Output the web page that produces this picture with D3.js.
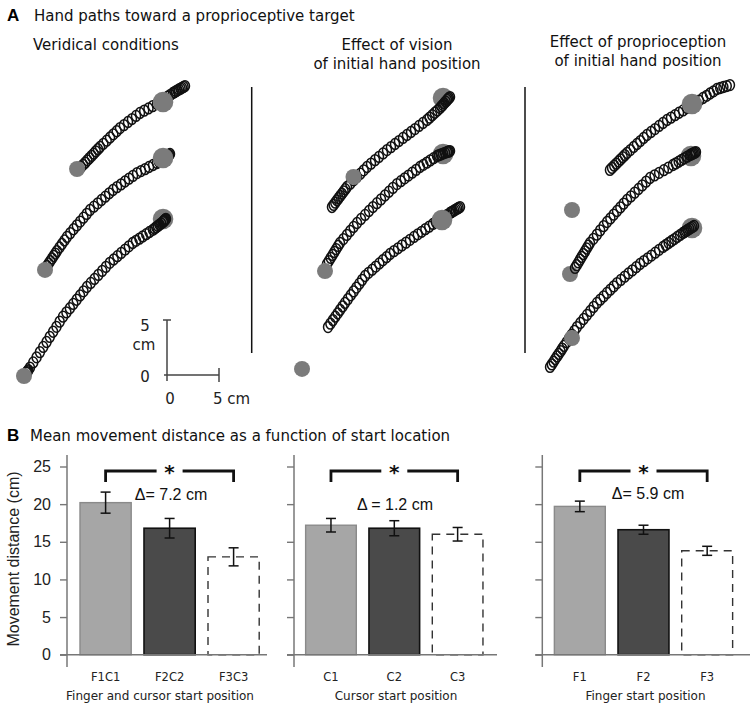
<!DOCTYPE html>
<html><head><meta charset="utf-8">
<script src="https://cdn.jsdelivr.net/npm/d3@7"></script>
<style>body{margin:0;background:#fff}svg{display:block}</style>
</head><body>
<svg id="fig" width="750" height="705"></svg>
<script>
// ---------------- DATA ----------------
// Panel A: hand paths (cm, relative to each panel's reference origin)
const panelATitles = [["Veridical conditions"], ["Effect of vision", "of initial hand position"], ["Effect of proprioception", "of initial hand position"]];

const veridicalTop = [[-8.27,18.91],[-8.07,19.11],[-7.86,19.31],[-7.66,19.52],[-7.46,19.72],[-7.25,19.92],[-7.05,20.12],[-6.85,20.33],[-6.64,20.53],[-6.44,20.73],[-6.12,21.02],[-5.8,21.3],[-5.48,21.59],[-5.16,21.88],[-4.84,22.16],[-4.52,22.45],[-4.14,22.72],[-3.75,23.0],[-3.37,23.27],[-2.98,23.55],[-2.6,23.82],[-2.19,24.03],[-1.78,24.23],[-1.37,24.44],[-0.96,24.64],[-0.7,24.81],[-0.45,24.97],[-0.19,25.14],[0.07,25.31],[0.32,25.47],[0.58,25.64],[0.72,25.72],[0.87,25.8],[1.01,25.88],[1.15,25.96],[1.3,26.03],[1.44,26.11],[1.59,26.19],[1.73,26.27]];
const veridicalMid = [[-11.54,9.91],[-11.38,10.14],[-11.22,10.36],[-11.06,10.59],[-10.9,10.82],[-10.74,11.04],[-10.58,11.27],[-10.34,11.59],[-10.1,11.91],[-9.86,12.23],[-9.62,12.55],[-9.3,12.9],[-8.99,13.25],[-8.67,13.6],[-8.35,13.95],[-8.03,14.3],[-7.72,14.65],[-7.4,15.0],[-7.03,15.3],[-6.66,15.61],[-6.3,15.91],[-5.93,16.21],[-5.56,16.52],[-5.19,16.82],[-4.81,17.08],[-4.42,17.33],[-4.04,17.59],[-3.65,17.85],[-3.27,18.1],[-2.88,18.36],[-2.5,18.54],[-2.11,18.72],[-1.73,18.91],[-1.34,19.09],[-0.96,19.27],[-0.77,19.38],[-0.58,19.49],[-0.38,19.6],[-0.19,19.71],[0,19.82],[0.07,19.89],[0.15,19.96],[0.22,20.02],[0.29,20.09]];
const veridicalBot = [[-13.5,0.2],[-13.45,0.27],[-13.4,0.35],[-13.33,0.45],[-13.18,0.67],[-12.86,1.14],[-12.54,1.61],[-12.22,2.08],[-11.9,2.55],[-11.58,3.0],[-11.27,3.47],[-10.95,3.93],[-10.63,4.38],[-10.32,4.85],[-10.0,5.3],[-9.67,5.69],[-9.34,6.07],[-9.01,6.46],[-8.69,6.84],[-8.36,7.23],[-8.03,7.61],[-7.7,8.0],[-7.33,8.37],[-6.97,8.73],[-6.6,9.1],[-6.23,9.47],[-5.87,9.83],[-5.5,10.2],[-5.13,10.5],[-4.77,10.8],[-4.4,11.1],[-4.03,11.4],[-3.67,11.7],[-3.3,12.0],[-2.98,12.2],[-2.65,12.4],[-2.33,12.6],[-2.0,12.8],[-1.68,13.0],[-1.35,13.2],[-1.19,13.32],[-1.03,13.43],[-0.87,13.55],[-0.72,13.67],[-0.56,13.78],[-0.4,13.9],[-0.34,13.96],[-0.28,14.02],[-0.22,14.08],[-0.16,14.14],[-0.1,14.2]];

const visionTop = [[-11.06,15.27],[-10.9,15.47],[-10.74,15.67],[-10.58,15.88],[-10.42,16.08],[-10.26,16.28],[-10.1,16.48],[-9.94,16.68],[-9.78,16.89],[-9.62,17.09],[-9.3,17.39],[-8.98,17.7],[-8.66,18.0],[-8.33,18.3],[-8.01,18.61],[-7.69,18.91],[-7.31,19.22],[-6.92,19.53],[-6.54,19.83],[-6.15,20.14],[-5.77,20.45],[-5.39,20.72],[-5.0,21.0],[-4.62,21.27],[-4.23,21.55],[-3.85,21.82],[-3.46,22.09],[-3.08,22.36],[-2.69,22.64],[-2.31,22.91],[-1.92,23.18],[-1.67,23.4],[-1.42,23.62],[-1.17,23.84],[-0.92,24.05],[-0.67,24.27],[-0.54,24.42],[-0.4,24.56],[-0.27,24.71],[-0.13,24.85],[0,25.0],[0.1,25.09],[0.19,25.18],[0.29,25.27]];
const visionMid = [[-11.54,10.09],[-11.36,10.36],[-11.18,10.64],[-11.0,10.91],[-10.83,11.18],[-10.65,11.45],[-10.47,11.73],[-10.29,12.0],[-9.96,12.36],[-9.63,12.73],[-9.31,13.09],[-8.98,13.46],[-8.65,13.82],[-8.27,14.18],[-7.88,14.55],[-7.5,14.91],[-7.12,15.27],[-6.74,15.62],[-6.35,15.97],[-5.97,16.32],[-5.58,16.66],[-5.2,17.01],[-4.81,17.36],[-4.44,17.62],[-4.07,17.88],[-3.71,18.13],[-3.34,18.39],[-2.97,18.65],[-2.6,18.91],[-2.27,19.11],[-1.94,19.31],[-1.61,19.51],[-1.29,19.71],[-0.96,19.91],[-0.77,19.98],[-0.58,20.05],[-0.38,20.13],[-0.19,20.2],[0,20.27],[0.1,20.3],[0.19,20.33],[0.29,20.36]];
const visionBot = [[-11.44,4.36],[-11.21,4.67],[-10.97,4.99],[-10.74,5.3],[-10.51,5.61],[-10.28,5.92],[-10.04,6.24],[-9.81,6.55],[-9.53,6.9],[-9.26,7.25],[-8.98,7.6],[-8.71,7.95],[-8.43,8.3],[-8.16,8.65],[-7.88,9.0],[-7.54,9.29],[-7.19,9.57],[-6.85,9.86],[-6.51,10.14],[-6.17,10.43],[-5.82,10.71],[-5.48,11.0],[-5.1,11.26],[-4.71,11.52],[-4.33,11.78],[-3.94,12.03],[-3.56,12.29],[-3.17,12.55],[-2.81,12.79],[-2.44,13.02],[-2.08,13.26],[-1.71,13.49],[-1.35,13.73],[-1.08,13.9],[-0.8,14.06],[-0.53,14.23],[-0.26,14.4],[0.02,14.56],[0.29,14.73],[0.43,14.81],[0.56,14.88],[0.7,14.96],[0.84,15.04],[0.98,15.12],[1.11,15.19],[1.25,15.27]];

const propTop = [[-8.37,18.64],[-8.17,18.83],[-7.96,19.03],[-7.76,19.22],[-7.55,19.41],[-7.35,19.6],[-7.14,19.8],[-6.94,19.99],[-6.73,20.18],[-6.41,20.45],[-6.09,20.73],[-5.77,21.0],[-5.45,21.27],[-5.13,21.55],[-4.81,21.82],[-4.42,22.09],[-4.04,22.36],[-3.65,22.64],[-3.27,22.91],[-2.88,23.18],[-2.5,23.4],[-2.11,23.62],[-1.73,23.84],[-1.34,24.05],[-0.96,24.27],[-0.58,24.5],[-0.19,24.72],[0.19,24.95],[0.58,25.18],[0.92,25.38],[1.25,25.59],[1.59,25.79],[1.92,26.0],[2.23,26.09],[2.54,26.18],[2.86,26.27],[3.17,26.36]];
const propMid = [[-11.73,9.73],[-11.57,9.98],[-11.41,10.23],[-11.25,10.49],[-11.09,10.74],[-10.93,10.99],[-10.77,11.24],[-10.61,11.5],[-10.45,11.75],[-10.29,12.0],[-9.96,12.38],[-9.63,12.76],[-9.31,13.15],[-8.98,13.53],[-8.65,13.91],[-8.33,14.24],[-8.01,14.58],[-7.69,14.91],[-7.37,15.24],[-7.05,15.58],[-6.73,15.91],[-6.36,16.24],[-5.99,16.58],[-5.62,16.91],[-5.26,17.24],[-4.89,17.58],[-4.52,17.91],[-4.08,18.15],[-3.64,18.38],[-3.19,18.62],[-2.75,18.85],[-2.31,19.09],[-2.04,19.24],[-1.76,19.39],[-1.49,19.55],[-1.22,19.7],[-0.94,19.85],[-0.67,20.0],[-0.56,20.05],[-0.44,20.11],[-0.33,20.16],[-0.21,20.22],[-0.1,20.27]];
const propBot = [[-14.13,0.73],[-13.96,0.97],[-13.79,1.21],[-13.63,1.45],[-13.46,1.69],[-13.29,1.92],[-13.12,2.16],[-12.96,2.4],[-12.79,2.64],[-12.54,2.98],[-12.29,3.33],[-12.04,3.67],[-11.79,4.02],[-11.54,4.36],[-11.22,4.73],[-10.9,5.09],[-10.58,5.46],[-10.26,5.82],[-9.94,6.19],[-9.62,6.55],[-9.3,6.85],[-8.98,7.15],[-8.66,7.46],[-8.33,7.76],[-8.01,8.06],[-7.69,8.36],[-7.32,8.65],[-6.95,8.94],[-6.59,9.23],[-6.22,9.51],[-5.85,9.8],[-5.48,10.09],[-5.11,10.35],[-4.74,10.61],[-4.38,10.86],[-4.01,11.12],[-3.64,11.38],[-3.27,11.64],[-3.0,11.82],[-2.72,12.0],[-2.45,12.18],[-2.17,12.36],[-1.9,12.55],[-1.62,12.73],[-1.35,12.91],[-1.2,13.0],[-1.05,13.09],[-0.9,13.18],[-0.75,13.28],[-0.59,13.37],[-0.44,13.46],[-0.29,13.55]];

const veridicalStarts = [[-8.65,18.73],[-11.73,9.55],[-13.75,-0.09]];
const veridicalTargets = [[-0.38,24.82],[-0.38,19.73],[-0.38,14.18]];
const visionStarts = [[-8.99,18.0],[-11.73,9.45],[-13.94,0.55]];
const visionTargets = [[-0.38,25.18],[-0.38,20.09],[-0.48,14.09]];
const propStarts = [[-12.02,15.0],[-12.21,9.18],[-12.02,3.36]];
const propTargets = [[-0.48,24.64],[-0.58,19.91],[-0.48,13.36]];

const scaleBarCm = [0, 5];

// Panel B: mean movement distance
const yTicks = [0, 5, 10, 15, 20, 25];
const catsFC = ["F1C1", "F2C2", "F3C3"];
const meansFC = [20.2, 16.8, 13.0];
const errFC = [1.4, 1.3, 1.2];
const catsC = ["C1", "C2", "C3"];
const meansC = [17.2, 16.8, 16.0];
const errC = [0.9, 1.0, 0.9];
const catsF = ["F1", "F2", "F3"];
const meansF = [19.7, 16.6, 13.8];
const errF = [0.7, 0.6, 0.6];
const deltaLabels = ["\u0394= 7.2 cm", "\u0394 = 1.2 cm", "\u0394= 5.9 cm"];
const xTitles = ["Finger and cursor start position", "Cursor start position", "Finger start position"];

// ---------------- DRAWING ----------------
const svg = d3.select("#fig");
const TF = "'DejaVu Sans', Verdana, sans-serif";
const AF = "'Liberation Sans', Arial, sans-serif";
const GRAY = "#7b7b7b";

// Panel titles
svg.append("text").attr("x", 7).attr("y", 21).attr("font-family", AF).attr("font-weight", "bold")
  .attr("font-size", 17).text("A");
svg.append("text").attr("x", 34).attr("y", 21).attr("font-family", TF).attr("font-size", 15).attr("fill", "#111")
  .text("Hand paths toward a proprioceptive target");
svg.append("text").attr("x", 7).attr("y", 441).attr("font-family", AF).attr("font-weight", "bold")
  .attr("font-size", 17).text("B");
svg.append("text").attr("x", 30).attr("y", 441).attr("font-family", TF).attr("font-size", 15).attr("fill", "#111")
  .text("Mean movement distance as a function of start location");

// Panel A
const panels = [
  {paths: [veridicalTop, veridicalMid, veridicalBot], starts: veridicalStarts, targets: veridicalTargets,
   ox: 167, tAbove: [true, true, false], sAbove: [true, true, true], title: {x: 33, y: [50], anchor: "start"}},
  {paths: [visionTop, visionMid, visionBot], starts: visionStarts, targets: visionTargets,
   ox: 447, tAbove: [false, false, true], sAbove: [true, true, true], title: {x: 397, y: [50, 69], anchor: "middle"}},
  {paths: [propTop, propMid, propBot], starts: propStarts, targets: propTargets,
   ox: 697, tAbove: [true, false, false], sAbove: [true, false, true], title: {x: 638, y: [47, 66], anchor: "middle"}}
];
const oy = 375;

panels.forEach((p, pi) => {
  const x = d3.scaleLinear().domain([0, 5]).range([p.ox, p.ox + 52]);
  const y = d3.scaleLinear().domain([0, 5]).range([oy, oy - 55]);
  const g = svg.append("g");
  panelATitles[pi].forEach((t, i) => {
    g.append("text").attr("x", p.title.x).attr("y", p.title.y[i]).attr("text-anchor", p.title.anchor)
      .attr("font-family", TF).attr("font-size", 15).attr("fill", "#111").text(t);
  });
  const below = g.append("g"), mid = g.append("g"), above = g.append("g");
  p.paths.forEach((path, k) => {
    mid.append("g").selectAll("ellipse").data(path).join("ellipse")
      .attr("cx", d => x(d[0])).attr("cy", d => y(d[1]))
      .attr("rx", 4.5).attr("ry", 5.4)
      .attr("fill", "none").attr("stroke", "#111").attr("stroke-width", 1.5);
    const t = p.targets[k], s = p.starts[k];
    (p.tAbove[k] ? above : below).append("circle").attr("cx", x(t[0])).attr("cy", y(t[1])).attr("r", 10.3).attr("fill", GRAY);
    (p.sAbove[k] ? above : below).append("circle").attr("cx", x(s[0])).attr("cy", y(s[1])).attr("r", 8).attr("fill", GRAY);
  });
  if (pi === 0) {
    // scale bar
    const sb = g.append("g").attr("stroke", "#444").attr("stroke-width", 1.5);
    sb.append("line").attr("x1", x(scaleBarCm[0])).attr("x2", x(scaleBarCm[0]))
      .attr("y1", y(scaleBarCm[1])).attr("y2", y(scaleBarCm[0]) + 6);
    sb.append("line").attr("x1", x(scaleBarCm[0]) - 3).attr("x2", x(scaleBarCm[1]))
      .attr("y1", y(scaleBarCm[0])).attr("y2", y(scaleBarCm[0]));
    sb.append("line").attr("x1", x(scaleBarCm[0]) - 4).attr("x2", x(scaleBarCm[0]) + 4)
      .attr("y1", y(scaleBarCm[1])).attr("y2", y(scaleBarCm[1]));
    sb.append("line").attr("x1", x(scaleBarCm[1])).attr("x2", x(scaleBarCm[1]))
      .attr("y1", y(scaleBarCm[0]) - 7).attr("y2", y(scaleBarCm[0]) + 7);
    const lab = (tx, ty, s, a) => g.append("text").attr("x", tx).attr("y", ty).attr("text-anchor", a || "middle")
      .attr("font-family", TF).attr("font-size", 15).attr("fill", "#222").text(s);
    lab(x(0) - 22, y(5) + 11, String(scaleBarCm[1]));
    lab(x(0) - 23, y(5) + 30, "cm");
    lab(x(0) - 22, y(0) + 7, String(scaleBarCm[0]));
    lab(x(0) + 3, y(0) + 29, String(scaleBarCm[0]));
    lab(x(5) - 6, y(0) + 29, scaleBarCm[1] + " cm", "start");
  }
});
// separators
[251.7, 525].forEach(sx => svg.append("line").attr("x1", sx).attr("x2", sx).attr("y1", 87).attr("y2", 353)
  .attr("stroke", "#111").attr("stroke-width", 1.5));

// Panel B
const charts = [
  {cats: catsFC, means: meansFC, errs: errFC, range: [73.6, 265.6], axisX: 67, baseEnd: 267, titleX: 160, deltaX: 171, deltaY: 500, labels: true},
  {cats: catsC, means: meansC, errs: errC, range: [299.3, 489.3], axisX: 294, baseEnd: 497, titleX: 396, deltaX: 395, deltaY: 510, labels: false},
  {cats: catsF, means: meansF, errs: errF, range: [548, 739], axisX: 542.3, baseEnd: 750, titleX: 645.5, deltaX: 648, deltaY: 499, labels: false}
];
const yB = d3.scaleLinear().domain([0, 25]).range([654.7, 466.5]);
const fills = ["#a6a6a6", "#4a4a4a", "#ffffff"];
const strokes = ["#8a8a8a", "#111", "#333"];

charts.forEach((c, ci) => {
  const g = svg.append("g");
  const xb = d3.scaleBand().domain(c.cats).range(c.range).paddingInner(0.2).paddingOuter(0.1);
  // axis
  const ax = d3.axisLeft(yB).tickValues(yTicks).tickSize(7).tickPadding(9)
    .tickFormat(c.labels ? d3.format("d") : () => "");
  const ag = g.append("g").attr("transform", `translate(${c.axisX},0)`).call(ax);
  ag.select(".domain").remove();
  ag.selectAll(".tick line").attr("stroke", "#777").attr("stroke-width", 1.4);
  ag.selectAll(".tick text").attr("font-family", AF).attr("font-size", 16).attr("fill", "#222");
  g.append("line").attr("x1", c.axisX).attr("x2", c.axisX).attr("y1", 455).attr("y2", 667)
    .attr("stroke", "#777").attr("stroke-width", 1.5);
  // bars
  c.cats.forEach((cat, i) => {
    const bx = xb(cat), bw = xb.bandwidth();
    const r = g.append("rect").attr("x", bx).attr("y", yB(c.means[i])).attr("width", bw)
      .attr("height", yB(0) - yB(c.means[i])).attr("fill", fills[i]).attr("stroke", strokes[i])
      .attr("stroke-width", i === 1 ? 1.6 : 1.4);
    if (i === 2) r.attr("stroke-dasharray", "8,6");
    const cx = bx + bw / 2;
    const eg = g.append("g").attr("stroke", "#111").attr("stroke-width", 1.5);
    eg.append("line").attr("x1", cx).attr("x2", cx).attr("y1", yB(c.means[i] + c.errs[i])).attr("y2", yB(c.means[i] - c.errs[i]));
    [c.means[i] + c.errs[i], c.means[i] - c.errs[i]].forEach(v =>
      eg.append("line").attr("x1", cx - 5).attr("x2", cx + 5).attr("y1", yB(v)).attr("y2", yB(v)));
    g.append("text").attr("x", cx).attr("y", 681).attr("text-anchor", "middle")
      .attr("font-family", TF).attr("font-size", 11.5).attr("fill", "#222").text(cat);
  });
  // baseline
  g.append("line").attr("x1", c.axisX - 7).attr("x2", c.baseEnd).attr("y1", yB(0)).attr("y2", yB(0))
    .attr("stroke", "#777").attr("stroke-width", 1.5);
  // significance bracket
  const x1 = xb(c.cats[0]) + xb.bandwidth() / 2, x3 = xb(c.cats[2]) + xb.bandwidth() / 2;
  const xm = (x1 + x3) / 2, by = yB(24.4);
  g.append("path").attr("d", `M${x1},${by + 11}V${by}H${xm - 13}M${xm + 13},${by}H${x3}V${by + 11}`)
    .attr("fill", "none").attr("stroke", "#111").attr("stroke-width", 2.8);
  g.append("text").attr("x", xm).attr("y", by + 8).attr("text-anchor", "middle")
    .attr("font-family", TF).attr("font-weight", "bold").attr("font-size", 20).attr("fill", "#111").text("*");
  g.append("text").attr("x", c.deltaX).attr("y", c.deltaY).attr("text-anchor", "middle")
    .attr("font-family", AF).attr("font-size", 16).attr("fill", "#111").text(deltaLabels[ci]);
  g.append("text").attr("x", c.titleX).attr("y", 700).attr("text-anchor", "middle")
    .attr("font-family", TF).attr("font-size", 12).attr("fill", "#222").text(xTitles[ci]);
});
// y axis label
svg.append("text").attr("transform", "translate(19,559) rotate(-90)").attr("text-anchor", "middle")
  .attr("font-family", AF).attr("font-size", 16).attr("fill", "#222").text("Movement distance (cm)");
</script>
</body></html>
